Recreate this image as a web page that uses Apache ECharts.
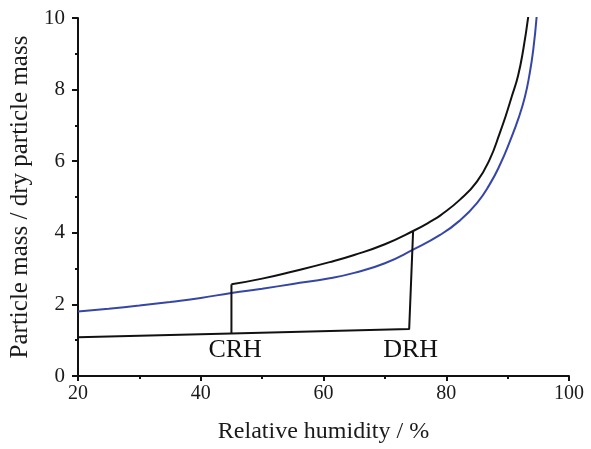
<!DOCTYPE html>
<html>
<head>
<meta charset="utf-8">
<script src="https://cdn.jsdelivr.net/npm/echarts@6/dist/echarts.min.js"></script>
<style>html,body{margin:0;padding:0;background:#fff}#c{width:591px;height:449px}</style>
</head>
<body>
<div id="c"></div>
<script>
// Relative humidity (%) / mass ratio points
const blueX = [20, 25, 30, 35, 40, 45, 50, 55, 61, 65, 70, 74.6, 79.0, 82.2, 85.0, 87.1, 88.75, 90.4, 91.85, 92.82, 93.53, 94.18, 94.73];
const blueY = [1.80, 1.88, 1.97, 2.07, 2.18, 2.32, 2.44, 2.57, 2.73, 2.88, 3.15, 3.53, 3.94, 4.34, 4.83, 5.36, 5.90, 6.57, 7.24, 7.80, 8.39, 9.12, 10.04];

const blackUpperX = [45.0, 50, 55, 61, 65, 70, 74.6, 77.9, 79.0, 82.2, 85.0, 87.1, 88.75, 89.7, 90.7, 91.7, 92.55, 93.36];
const blackUpperY = [2.56, 2.72, 2.92, 3.18, 3.38, 3.68, 4.05, 4.36, 4.48, 4.92, 5.43, 6.06, 6.80, 7.27, 7.82, 8.39, 9.12, 10.04];

const blackLowerX = [20, 45.0, 73.96, 74.6];
const blackLowerY = [1.08, 1.19, 1.31, 4.05];

const crhLineX = [45.0, 45.0];
const crhLineY = [1.19, 2.56];

const markerNames = ['CRH', 'DRH'];
const markerX = [45.6, 74.2];
const markerY = [0.72, 0.72];

const xTicks = [20, 40, 60, 80, 100];
const yTicks = [0, 2, 4, 6, 8, 10];

const zip = (xs, ys) => xs.map((x, i) => [x, ys[i]]);
const FONT = 'Liberation Serif';

const chart = echarts.init(document.getElementById('c'), null, {renderer: 'canvas'});
chart.setOption({
  animation: false,
  backgroundColor: '#fff',
  grid: {left: 78, right: 22, top: 18, bottom: 69},
  xAxis: {
    type: 'value', min: xTicks[0], max: xTicks[xTicks.length - 1], interval: 20,
    name: 'Relative humidity / %', nameLocation: 'middle', nameGap: 44,
    nameTextStyle: {fontFamily: FONT, fontSize: 24, color: '#1a1a1a'},
    axisLine: {lineStyle: {color: '#111', width: 2}},
    axisTick: {show: true, length: 5, lineStyle: {color: '#111', width: 2}},
    minorTick: {show: true, splitNumber: 2, length: 3, lineStyle: {color: '#111', width: 2}},
    splitLine: {show: false},
    axisLabel: {fontFamily: FONT, fontSize: 20, color: '#1a1a1a', margin: 8}
  },
  yAxis: {
    type: 'value', min: yTicks[0], max: yTicks[yTicks.length - 1], interval: 2,
    name: 'Particle mass / dry particle mass', nameLocation: 'middle', nameGap: 40,
    nameTextStyle: {fontFamily: FONT, fontSize: 25, color: '#1a1a1a'},
    axisLine: {show: true, lineStyle: {color: '#111', width: 2}},
    axisTick: {show: true, length: 6, lineStyle: {color: '#111', width: 2}},
    minorTick: {show: true, splitNumber: 2, length: 3, lineStyle: {color: '#111', width: 2}},
    splitLine: {show: false},
    axisLabel: {fontFamily: FONT, fontSize: 21, color: '#1a1a1a', margin: 13}
  },
  series: [
    {type: 'line', data: zip(blueX, blueY), smooth: 0.5, symbol: 'none',
     lineStyle: {color: '#3646a6', width: 2}, clip: true},
    {type: 'line', data: zip(blackUpperX, blackUpperY), smooth: 0.5, symbol: 'none',
     lineStyle: {color: '#111', width: 2}, clip: true},
    {type: 'line', data: zip(blackLowerX, blackLowerY), symbol: 'none',
     lineStyle: {color: '#111', width: 2}},
    {type: 'line', data: zip(crhLineX, crhLineY), symbol: 'none',
     lineStyle: {color: '#111', width: 2}},
    {type: 'scatter', symbolSize: 0, itemStyle: {opacity: 1},
     data: markerNames.map((n, i) => ({name: n, value: [markerX[i], markerY[i]]})),
     label: {show: true, position: 'inside', formatter: p => p.name,
             fontFamily: FONT, fontSize: 26, color: '#111', opacity: 1}}
  ]
});
</script>
</body>
</html>
